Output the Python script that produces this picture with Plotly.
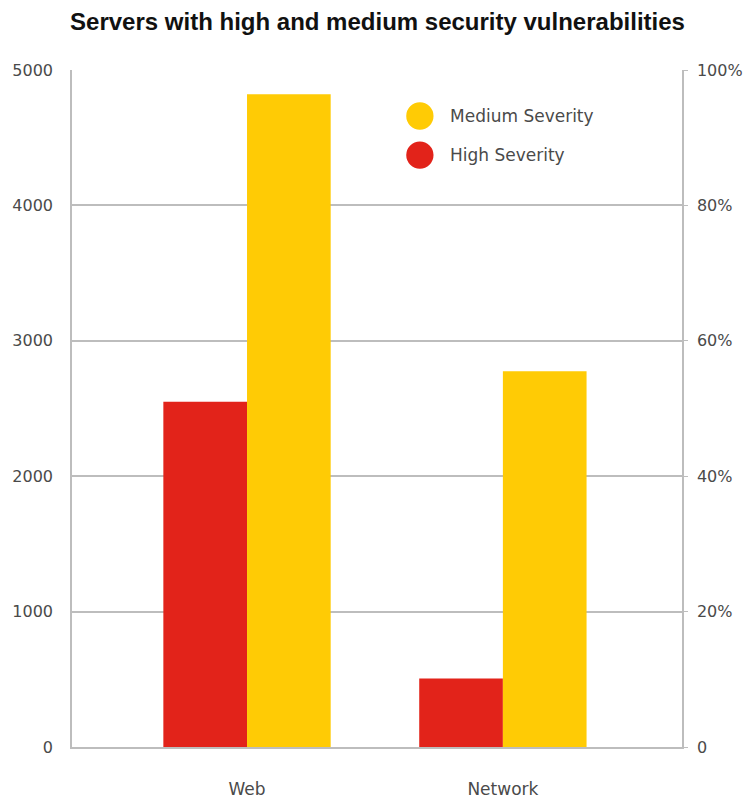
import plotly.graph_objects as go

categories = ["Web", "Network"]
high_severity = [2550, 505]
medium_severity = [4820, 2775]
series_names = ["High Severity", "Medium Severity"]
left_ticks = [0, 1000, 2000, 3000, 4000, 5000]
right_tickvals = [0, 20, 40, 60, 80, 100]
right_ticktext = ["0", "20%", "40%", "60%", "80%", "100%"]
title_text = "Servers with high and medium security vulnerabilities"

RED = "#E2231A"
YELLOW = "#FFCB05"
GRID = "#BDBDBD"
TXT = "#4a4a4a"
TICKFONT = dict(family="DejaVu Sans", size=16, color=TXT)
XFONT = dict(family="DejaVu Sans", size=17, color=TXT)

fig = go.Figure()
fig.add_trace(go.Bar(x=categories, y=high_severity, name=series_names[0],
                     marker=dict(color=RED, line=dict(width=0)), showlegend=False))
fig.add_trace(go.Bar(x=categories, y=medium_severity, name=series_names[1],
                     marker=dict(color=YELLOW, line=dict(width=0)), showlegend=False))
# invisible trace to activate the right axis
fig.add_trace(go.Scatter(x=categories, y=[None, None], yaxis="y2", showlegend=False,
                         hoverinfo="skip"))

fig.update_layout(
    width=755, height=811,
    margin=dict(l=71, r=58, t=70, b=49),
    paper_bgcolor="white", plot_bgcolor="white",
    barmode="group", bargap=0.346, bargroupgap=0,
    title=dict(text=title_text, x=0.5, xanchor="center", y=0.973, yanchor="middle",
               font=dict(family="Liberation Sans", size=24, color="#111111", weight="bold")),
    xaxis=dict(type="category", range=[-0.684, 1.70], showgrid=False,
               showline=True, linecolor=GRID, linewidth=1.5, ticks="",
               tickfont=XFONT, ticklabelstandoff=26, zeroline=False),
    yaxis=dict(range=[0, 5000], tickvals=left_ticks, showgrid=True, gridcolor=GRID,
               gridwidth=1.5, showline=True, linecolor=GRID, linewidth=1.5,
               ticks="", tickfont=TICKFONT, ticklabelstandoff=14, zeroline=False,
               fixedrange=True),
    yaxis2=dict(range=[0, 100], overlaying="y", side="right", tickvals=right_tickvals,
                ticktext=right_ticktext, showgrid=False, showline=True, linecolor=GRID,
                linewidth=1.5, ticks="outside", ticklen=4, tickcolor=GRID,
                tickfont=TICKFONT, ticklabelstandoff=6, zeroline=False),
)

# legend drawn as circles + labels
legend_items = [(series_names[1], YELLOW, 117), (series_names[0], RED, 157)]
for name, color, ypx in legend_items:
    yp = (811 - ypx - 49) / (811 - 70 - 49)
    fig.add_shape(type="circle", xref="paper", yref="paper",
                  x0=(414 - 71) / 626, x1=(442 - 71) / 626,
                  y0=yp - 14 / 692, y1=yp + 14 / 692,
                  fillcolor=color, line=dict(width=0))
    fig.add_annotation(text=name, xref="paper", yref="paper", x=(457 - 71) / 626, y=yp,
                       xanchor="left", yanchor="middle", showarrow=False,
                       font=dict(family="DejaVu Sans", size=17, color=TXT))

fig.write_html("out.html")
